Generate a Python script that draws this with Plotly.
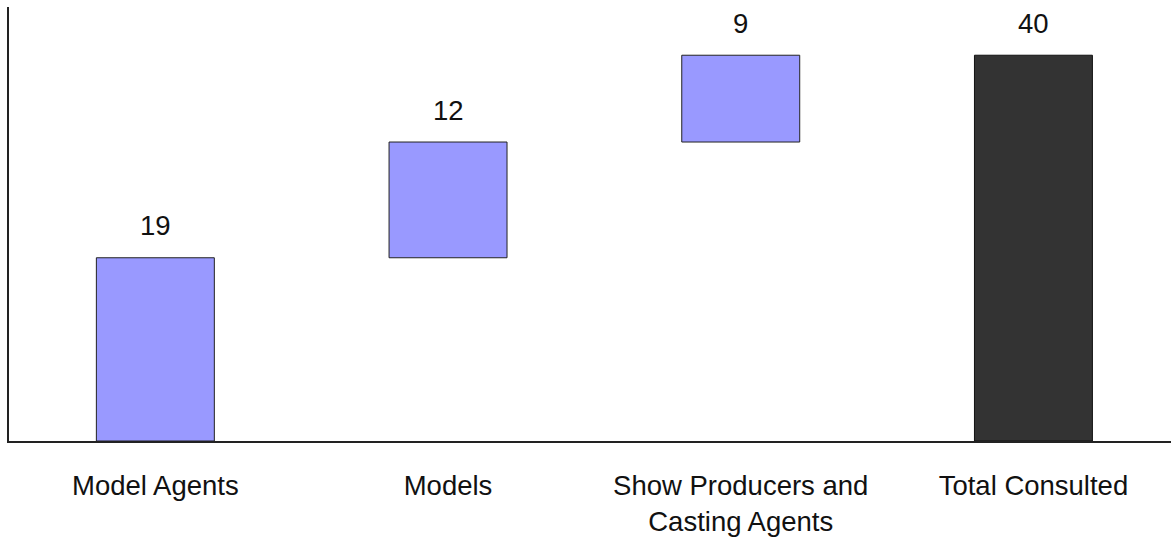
import plotly.graph_objects as go
import numpy as np

categories = ["Model Agents", "Models", "Show Producers and<br>Casting Agents", "Total Consulted"]
values = [19, 12, 9, 40]
measures = ["relative", "relative", "relative", "total"]

fig = go.Figure()
fig.add_trace(go.Waterfall(
    x=categories,
    y=[19, 12, 9, 0],
    measure=measures,
    width=0.403,
    increasing=dict(marker=dict(color="#9999FF", line=dict(color="#222222", width=1))),
    totals=dict(marker=dict(color="#333333", line=dict(color="#111111", width=1))),
    connector=dict(visible=False),
    textposition="none",
    showlegend=False,
))

tops = list(np.cumsum(values[:3])) + [values[3]]
for c, v, t in zip(categories, values, tops):
    fig.add_annotation(x=c, y=t, text=str(v), showarrow=False, yanchor="middle",
                       yshift=32, font=dict(family="Arial, Liberation Sans", size=27.5, color="#111111"))

fig.update_layout(
    width=1171, height=543,
    margin=dict(l=9, r=0, t=7, b=102),
    paper_bgcolor="white", plot_bgcolor="white",
    font=dict(family="Arial, Liberation Sans", size=27.5, color="#111111"),
    xaxis=dict(range=[-0.5, 3.47], showline=True, linecolor="#222222", linewidth=2,
               showgrid=False, ticks="", ticklabelstandoff=19, tickfont=dict(size=27.5)),
    yaxis=dict(range=[0, 45], showline=True, linecolor="#222222", linewidth=2,
               showgrid=False, zeroline=False, showticklabels=False, ticks=""),
)
fig.write_html("out.html")
